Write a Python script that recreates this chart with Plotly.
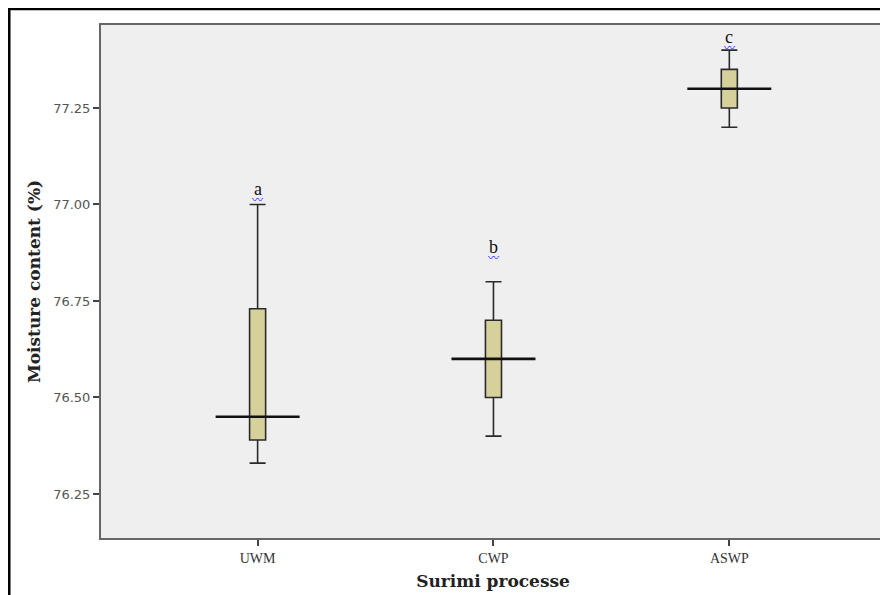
import plotly.graph_objects as go

categories = ["UWM", "CWP", "ASWP"]
lower_whisker = [76.33, 76.40, 77.20]
q1 = [76.39, 76.50, 77.25]
median = [76.45, 76.60, 77.30]
q3 = [76.73, 76.70, 77.35]
upper_whisker = [77.00, 76.80, 77.40]
letters = ["a", "b", "c"]
letter_y = [77.04, 76.89, 77.435]
y_ticks = [76.25, 76.50, 76.75, 77.00, 77.25]

xpos = list(range(len(categories)))

fig = go.Figure()
fig.add_trace(go.Box(
    x=xpos, q1=q1, median=median, q3=q3,
    lowerfence=lower_whisker, upperfence=upper_whisker,
    fillcolor="#d6d19a", line=dict(color="#2a2a2a", width=1.6),
    width=0.068, whiskerwidth=1, boxpoints=False, showlegend=False,
    hoverinfo="skip",
))
fig.add_trace(go.Scatter(
    x=xpos, y=median, mode="markers",
    marker=dict(symbol="line-ew", size=60, line=dict(color="#111111", width=2.6)),
    showlegend=False, hoverinfo="skip",
))

for xi, t, ly in zip(xpos, letters, letter_y):
    fig.add_annotation(
        x=xi, y=ly, text=t,
        showarrow=False, font=dict(family="Liberation Serif", size=18, color="#111"),
        yanchor="middle",
    )
    fig.add_annotation(
        x=xi, y=ly, text="\u3030", yshift=-10,
        showarrow=False, font=dict(family="Noto Sans CJK JP", size=11, color="#2f2fff"),
        yanchor="middle",
    )

fig.add_shape(type="rect", xref="paper", yref="paper",
              x0=-0.117, x1=1.05, y0=-0.2, y1=1.031,
              line=dict(color="black", width=2.5), layer="below")

fig.update_layout(
    width=880, height=587,
    margin=dict(l=93, r=1, t=17, b=57),
    paper_bgcolor="white", plot_bgcolor="#efefef",
)
fig.update_xaxes(
    range=[-0.664, 2.66], tickvals=xpos, ticktext=categories,
    ticks="outside", ticklen=6, tickcolor="#444", tickwidth=1.5,
    showline=True, linecolor="#666", linewidth=2, mirror=True,
    showgrid=False, zeroline=False,
    tickfont=dict(family="Liberation Serif", size=14, color="#333"),
    title=dict(text="<b>Surimi processe</b>", standoff=10,
               font=dict(family="DejaVu Serif", size=17, color="#222")),
)
fig.update_yaxes(
    range=[76.136, 77.465], tickvals=y_ticks,
    ticktext=[f"{v:.2f}" for v in y_ticks],
    ticks="outside", ticklen=6, tickcolor="#444", tickwidth=1.5,
    showline=True, linecolor="#666", linewidth=2, mirror=True,
    showgrid=False, zeroline=False,
    tickfont=dict(family="DejaVu Sans", size=13, color="#555"),
    title=dict(text="<b>Moisture content (%)</b>", standoff=8,
               font=dict(family="DejaVu Serif", size=17, color="#222")),
)

fig.write_html("out.html")
